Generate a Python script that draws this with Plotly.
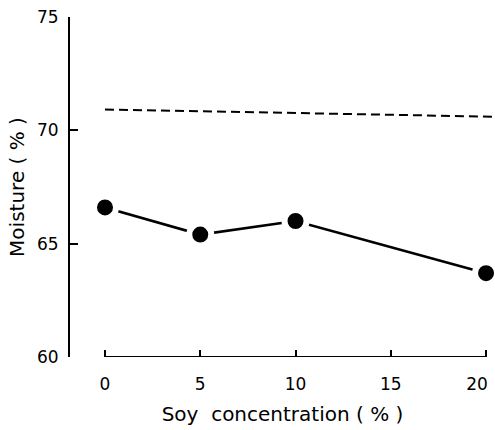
import plotly.graph_objects as go

# Data
soy_conc = [0, 5, 10, 20]
moisture = [66.6, 65.4, 66.0, 63.7]
control_x = [0, 20.47]
control_y = [70.92, 70.6]
x_ticks = [0, 5, 10, 15, 20]
x_tick_labels = ["0", "5", "10", "15", "20"]
y_ticks = [60, 65, 70, 75]

FONT = "DejaVu Sans"
X_RANGE = [-1.837, 20.47]

fig = go.Figure()
# control (dashed) drawn on the overlaid x2 axis, which has an identical range
fig.add_trace(go.Scatter(
    x=control_x, y=control_y, mode="lines", xaxis="x2", yaxis="y",
    line=dict(color="black", width=2, dash="9px,5px"),
    showlegend=False, hoverinfo="skip",
))
fig.add_trace(go.Scatter(
    x=soy_conc, y=moisture, mode="lines+markers",
    line=dict(color="black", width=2.6),
    marker=dict(color="black", size=22, line=dict(color="white", width=6)),
    showlegend=False, cliponaxis=False,
))

# x axis line drawn only between 0 and 20 like the reference
fig.add_shape(type="line", xref="x", yref="y", x0=x_ticks[0], x1=x_ticks[-1],
              y0=y_ticks[0], y1=y_ticks[0], line=dict(color="black", width=2))

common_x = dict(range=X_RANGE, showline=False, showgrid=False, zeroline=False,
                automargin=False, ticklabelstandoff=15,
                ticklabeloverflow="allow", tickfont=dict(family=FONT, size=17))

fig.update_layout(
    width=495, height=430,
    margin=dict(l=70, r=0, t=17, b=73, autoexpand=False),
    paper_bgcolor="white", plot_bgcolor="white",
    font=dict(family=FONT, size=16, color="black"),
    xaxis=dict(
        **common_x,
        tickvals=x_ticks, ticktext=x_tick_labels[:-1] + [""],
        ticks="inside", ticklen=7, tickwidth=2, tickcolor="black",
        title=dict(text="Soy  concentration ( % )", standoff=13,
                   font=dict(family=FONT, size=20)),
    ),
    # last label sits slightly left of its tick, as in the reference
    xaxis2=dict(
        **common_x, overlaying="x", anchor="y", side="bottom",
        tickvals=x_ticks[-1:], ticktext=x_tick_labels[-1:], ticks="",
        ticklabelshift=-9,
    ),
    yaxis=dict(
        range=[60, 75], tickvals=y_ticks, ticks="inside", ticklen=8,
        tickwidth=2, tickcolor="black", showline=True, linecolor="black",
        linewidth=2, showgrid=False, zeroline=False, automargin=False,
        ticklabelstandoff=6, ticklabeloverflow="allow",
        tickfont=dict(family=FONT, size=17),
        title=dict(text="Moisture ( % )", standoff=7,
                   font=dict(family=FONT, size=20)),
    ),
)

fig.write_html("out.html", config={"displayModeBar": False},
               post_script="document.body.style.margin='0';")
